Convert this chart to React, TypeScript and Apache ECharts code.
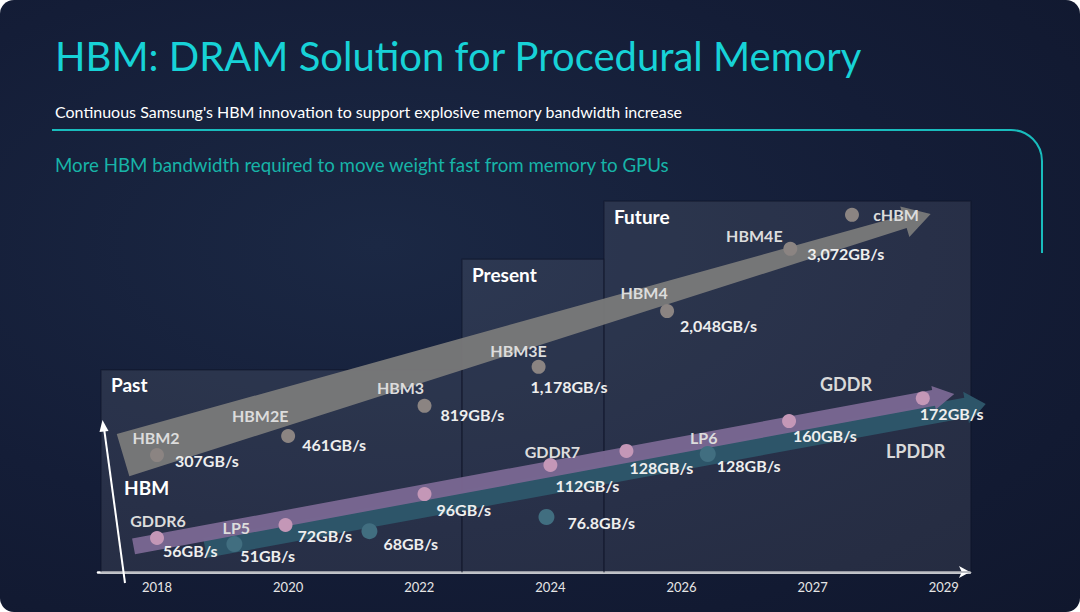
import React, { useEffect, useRef } from 'react';
import * as echarts from 'echarts';

// ---------- data ----------
const yearLabels = ['2018', '2020', '2022', '2024', '2026', '2027', '2029'];
const yearIndex = [0, 1, 2, 3, 4, 5, 6];

const hbmNames = ['HBM2', 'HBM2E', 'HBM3', 'HBM3E', 'HBM4', 'HBM4E', 'cHBM'];
const hbmBandwidth = ['307GB/s', '461GB/s', '819GB/s', '1,178GB/s', '2,048GB/s', '3,072GB/s', ''];
const hbmX = [0, 1.0, 2.04, 2.91, 3.89, 4.83, 5.3];
const hbmY = [30.6, 35.6, 43.5, 53.7, 68.3, 84.6, 93.5];

const gddrNames = ['GDDR6', '', '', 'GDDR7', '', '', ''];
const gddrBandwidth = ['56GB/s', '72GB/s', '96GB/s', '112GB/s', '128GB/s', '160GB/s', '172GB/s'];
const gddrX = [0, 0.98, 2.04, 3.0, 3.58, 4.82, 5.84];
const gddrY = [8.9, 12.3, 20.4, 28.0, 31.7, 39.5, 45.5];

const lpddrNames = ['LP5', '', '', 'LP6'];
const lpddrBandwidth = ['51GB/s', '68GB/s', '76.8GB/s', '128GB/s'];
const lpddrX = [0.59, 1.62, 2.97, 4.2];
const lpddrY = [7.3, 10.7, 14.4, 30.9];

const eraNames = ['Past', 'Present', 'Future'];
const eraStart = [-0.427, 2.326, 3.409];
const eraEnd = [2.326, 3.409, 6.207];
const eraTop = [52.9, 81.9, 97.1];

const trendNames = ['LPDDR', 'GDDR', 'HBM'];
const trendFrom = [[0.366, 6.3], [-0.179, 6.7], [-0.259, 30.6]];
const trendTo = [[6.32, 44.0], [6.08, 46.6], [5.9, 93.7]];

// ---------- styles / layout ----------
const FONT = 'Lato, "Open Sans", sans-serif';
const trendStyle = [
  { color: '#2d5569', tail: 20, end: 20, headLen: 20, headHalf: 16 },
  { color: 'rgba(122,103,146,0.96)', tail: 16, end: 16, headLen: 21, headHalf: 12 },
  { color: 'rgba(122,122,122,0.94)', tail: 44, end: 13, headLen: 27, headHalf: 16 },
];
const hbmValueOffset = [[18, 5], [14, 8], [16, 9], [-8, 20], [13, 14], [17, 5], [0, 0]];
const hbmNameOffset = [[-1, -18], [-28, -21], [-24, -18], [-20, -16], [-23, -19], [-36, -13], [44, 0]];
const gddrValueOffset = [[6, 12], [12, 10], [12, 15], [5, 20], [3, 17], [4, 14], [-3, 15]];
const gddrNameOffset = [[1, -18], [0, 0], [0, 0], [2, -14], [0, 0], [0, 0], [0, 0]];
const lpddrValueOffset = [[6, 11], [14, 12], [21, 6], [9, 12]];
const lpddrNameOffset = [[2, -17], [0, 0], [0, 0], [-4, -16]];

const valueLabel = {
  show: true,
  position: 'inside',
  align: 'left',
  verticalAlign: 'middle',
  color: '#eeeeee',
  fontSize: 16,
  fontWeight: 'bold',
  fontFamily: FONT,
};
const nameLabel = {
  show: true,
  position: 'inside',
  align: 'center',
  verticalAlign: 'middle',
  color: '#dcdcdc',
  fontSize: 16,
  fontWeight: 'bold',
  fontFamily: FONT,
};

function pointSeries(xs, ys, values, offsets, color, size) {
  return {
    type: 'scatter',
    z: 5,
    symbolSize: size,
    itemStyle: { color, opacity: 1 },
    data: xs.map((x, i) => ({ value: [x, ys[i]], label: { offset: offsets[i] } })),
    label: { ...valueLabel, formatter: (p) => values[p.dataIndex] },
    silent: true,
  };
}

function nameSeries(xs, ys, names, offsets) {
  const data = [];
  xs.forEach((x, i) => {
    if (names[i]) data.push({ value: [x, ys[i]], name: names[i], label: { offset: offsets[i] } });
  });
  return {
    type: 'scatter',
    z: 6,
    symbolSize: 0,
    itemStyle: { color: '#dcdcdc', opacity: 1 },
    data,
    label: { ...nameLabel, formatter: (p) => p.name },
    silent: true,
  };
}

export default function App() {
  const ref = useRef(null);
  useEffect(() => {
    document.body.style.margin = '0';
    const chart = echarts.init(ref.current, null, { renderer: 'svg' });
    const option = {
      animation: false,
      backgroundColor: 'transparent',
      grid: { left: 98, right: 110, top: 190, bottom: 40 },
      xAxis: {
        type: 'value',
        min: -0.45,
        max: 6.2,
        axisLine: {
          show: true,
          lineStyle: { color: '#ffffff', width: 2.5 },
          symbol: ['none', 'arrow'],
          symbolSize: [9, 11],
        },
        axisTick: { show: false },
        splitLine: { show: false },
        axisLabel: {
          customValues: yearIndex,
          formatter: (v) => yearLabels[Math.round(v)] || '',
          color: '#e6e6e6',
          fontSize: 13,
          fontFamily: FONT,
          margin: 8,
        },
      },
      yAxis: { type: 'value', min: 0, max: 100, show: false },
      series: [
        {
          type: 'custom',
          z: 1,
          clip: false,
          silent: true,
          data: eraNames.map((n, i) => [eraStart[i], eraEnd[i], eraTop[i]]),
          renderItem: (params, api) => {
            const i = params.dataIndex;
            const tl = api.coord([api.value(0), api.value(2)]);
            const br = api.coord([api.value(1), 0]);
            return {
              type: 'group',
              children: [
                {
                  type: 'rect',
                  shape: { x: tl[0], y: tl[1], width: br[0] - tl[0], height: br[1] - tl[1] },
                  style: { fill: 'rgba(255,255,255,0.085)', stroke: 'rgba(12,18,38,0.55)', lineWidth: 1.2 },
                },
                {
                  type: 'text',
                  x: tl[0] + 10,
                  y: tl[1] + 15,
                  style: {
                    text: eraNames[i],
                    fill: '#ffffff',
                    font: 'bold 19px ' + FONT,
                    textVerticalAlign: 'middle',
                    verticalAlign: 'middle',
                  },
                },
              ],
            };
          },
        },
        {
          type: 'custom',
          z: 2,
          clip: false,
          silent: true,
          data: trendNames.map((n, i) => [trendFrom[i][0], trendFrom[i][1], trendTo[i][0], trendTo[i][1]]),
          renderItem: (params, api) => {
            const s = trendStyle[params.dataIndex];
            const p0 = api.coord([api.value(0), api.value(1)]);
            const p1 = api.coord([api.value(2), api.value(3)]);
            const dx = p1[0] - p0[0];
            const dy = p1[1] - p0[1];
            const L = Math.sqrt(dx * dx + dy * dy);
            const ux = dx / L, uy = dy / L;
            const nx = -uy, ny = ux;
            const se = [p1[0] - ux * s.headLen, p1[1] - uy * s.headLen];
            const pts = [
              [p0[0] + nx * s.tail / 2, p0[1] + ny * s.tail / 2],
              [se[0] + nx * s.end / 2, se[1] + ny * s.end / 2],
              [se[0] + nx * s.headHalf, se[1] + ny * s.headHalf],
              [p1[0], p1[1]],
              [se[0] - nx * s.headHalf, se[1] - ny * s.headHalf],
              [se[0] - nx * s.end / 2, se[1] - ny * s.end / 2],
              [p0[0] - nx * s.tail / 2, p0[1] - ny * s.tail / 2],
            ];
            return { type: 'polygon', shape: { points: pts }, style: { fill: s.color } };
          },
        },
        pointSeries(lpddrX, lpddrY, lpddrBandwidth, lpddrValueOffset, '#416e80', 16),
        pointSeries(gddrX, gddrY, gddrBandwidth, gddrValueOffset, '#c497b7', 14),
        pointSeries(hbmX, hbmY, hbmBandwidth, hbmValueOffset, '#8b8482', 14),
        nameSeries(lpddrX, lpddrY, lpddrNames, lpddrNameOffset),
        nameSeries(gddrX, gddrY, gddrNames, gddrNameOffset),
        nameSeries(hbmX, hbmY, hbmNames, hbmNameOffset),
      ],
      graphic: [
        {
          type: 'text', x: 55, y: 56, z: 10,
          style: { text: 'HBM: DRAM Solution for Procedural Memory', fill: '#17d2d7', font: '40px ' + FONT, textVerticalAlign: 'middle' },
        },
        {
          type: 'text', x: 55, y: 111, z: 10,
          style: { text: "Continuous Samsung's HBM innovation to support explosive memory bandwidth increase", fill: '#ffffff', font: '16px ' + FONT, textVerticalAlign: 'middle' },
        },
        {
          type: 'text', x: 55, y: 165, z: 10,
          style: { text: 'More HBM bandwidth required to move weight fast from memory to GPUs', fill: '#17b4a8', font: '18.7px ' + FONT, textVerticalAlign: 'middle' },
        },
        { type: 'line', z: 10, shape: { x1: 52, y1: 130, x2: 1011, y2: 130 }, style: { stroke: '#19bcbd', lineWidth: 2 } },
        { type: 'arc', z: 10, shape: { cx: 1011, cy: 161, r: 31, startAngle: -Math.PI / 2, endAngle: 0, clockwise: true }, style: { stroke: '#19bcbd', lineWidth: 2, fill: 'none' } },
        { type: 'line', z: 10, shape: { x1: 1042, y1: 161, x2: 1042, y2: 253 }, style: { stroke: '#19bcbd', lineWidth: 2 } },
        { type: 'line', z: 10, shape: { x1: 125, y1: 583, x2: 104, y2: 428 }, style: { stroke: '#ffffff', lineWidth: 2 } },
        { type: 'polygon', z: 10, shape: { points: [[102.5, 420], [108.5, 431], [99.5, 432]] }, style: { fill: '#ffffff' } },
        {
          type: 'text', x: 124, y: 487, z: 10,
          style: { text: 'HBM', fill: '#ffffff', font: 'bold 19px ' + FONT, textVerticalAlign: 'middle' },
        },
        {
          type: 'text', x: 820, y: 384, z: 10,
          style: { text: 'GDDR', fill: '#d9d9d9', font: 'bold 18px ' + FONT, textVerticalAlign: 'middle' },
        },
        {
          type: 'text', x: 886, y: 451, z: 10,
          style: { text: 'LPDDR', fill: '#d9d9d9', font: 'bold 18px ' + FONT, textVerticalAlign: 'middle' },
        },
      ],
    };
    chart.setOption(option);
    return () => chart.dispose();
  }, []);
  return (
    <div
      style={{
        position: 'absolute',
        left: 0,
        top: 0,
        width: 1080,
        height: 612,
        borderRadius: 14,
        overflow: 'hidden',
        background: 'radial-gradient(ellipse at 35% 40%, #1b2844 0%, #141d37 55%, #10172d 100%)',
      }}
    >
      <div ref={ref} style={{ width: 1080, height: 612 }} />
    </div>
  );
}
